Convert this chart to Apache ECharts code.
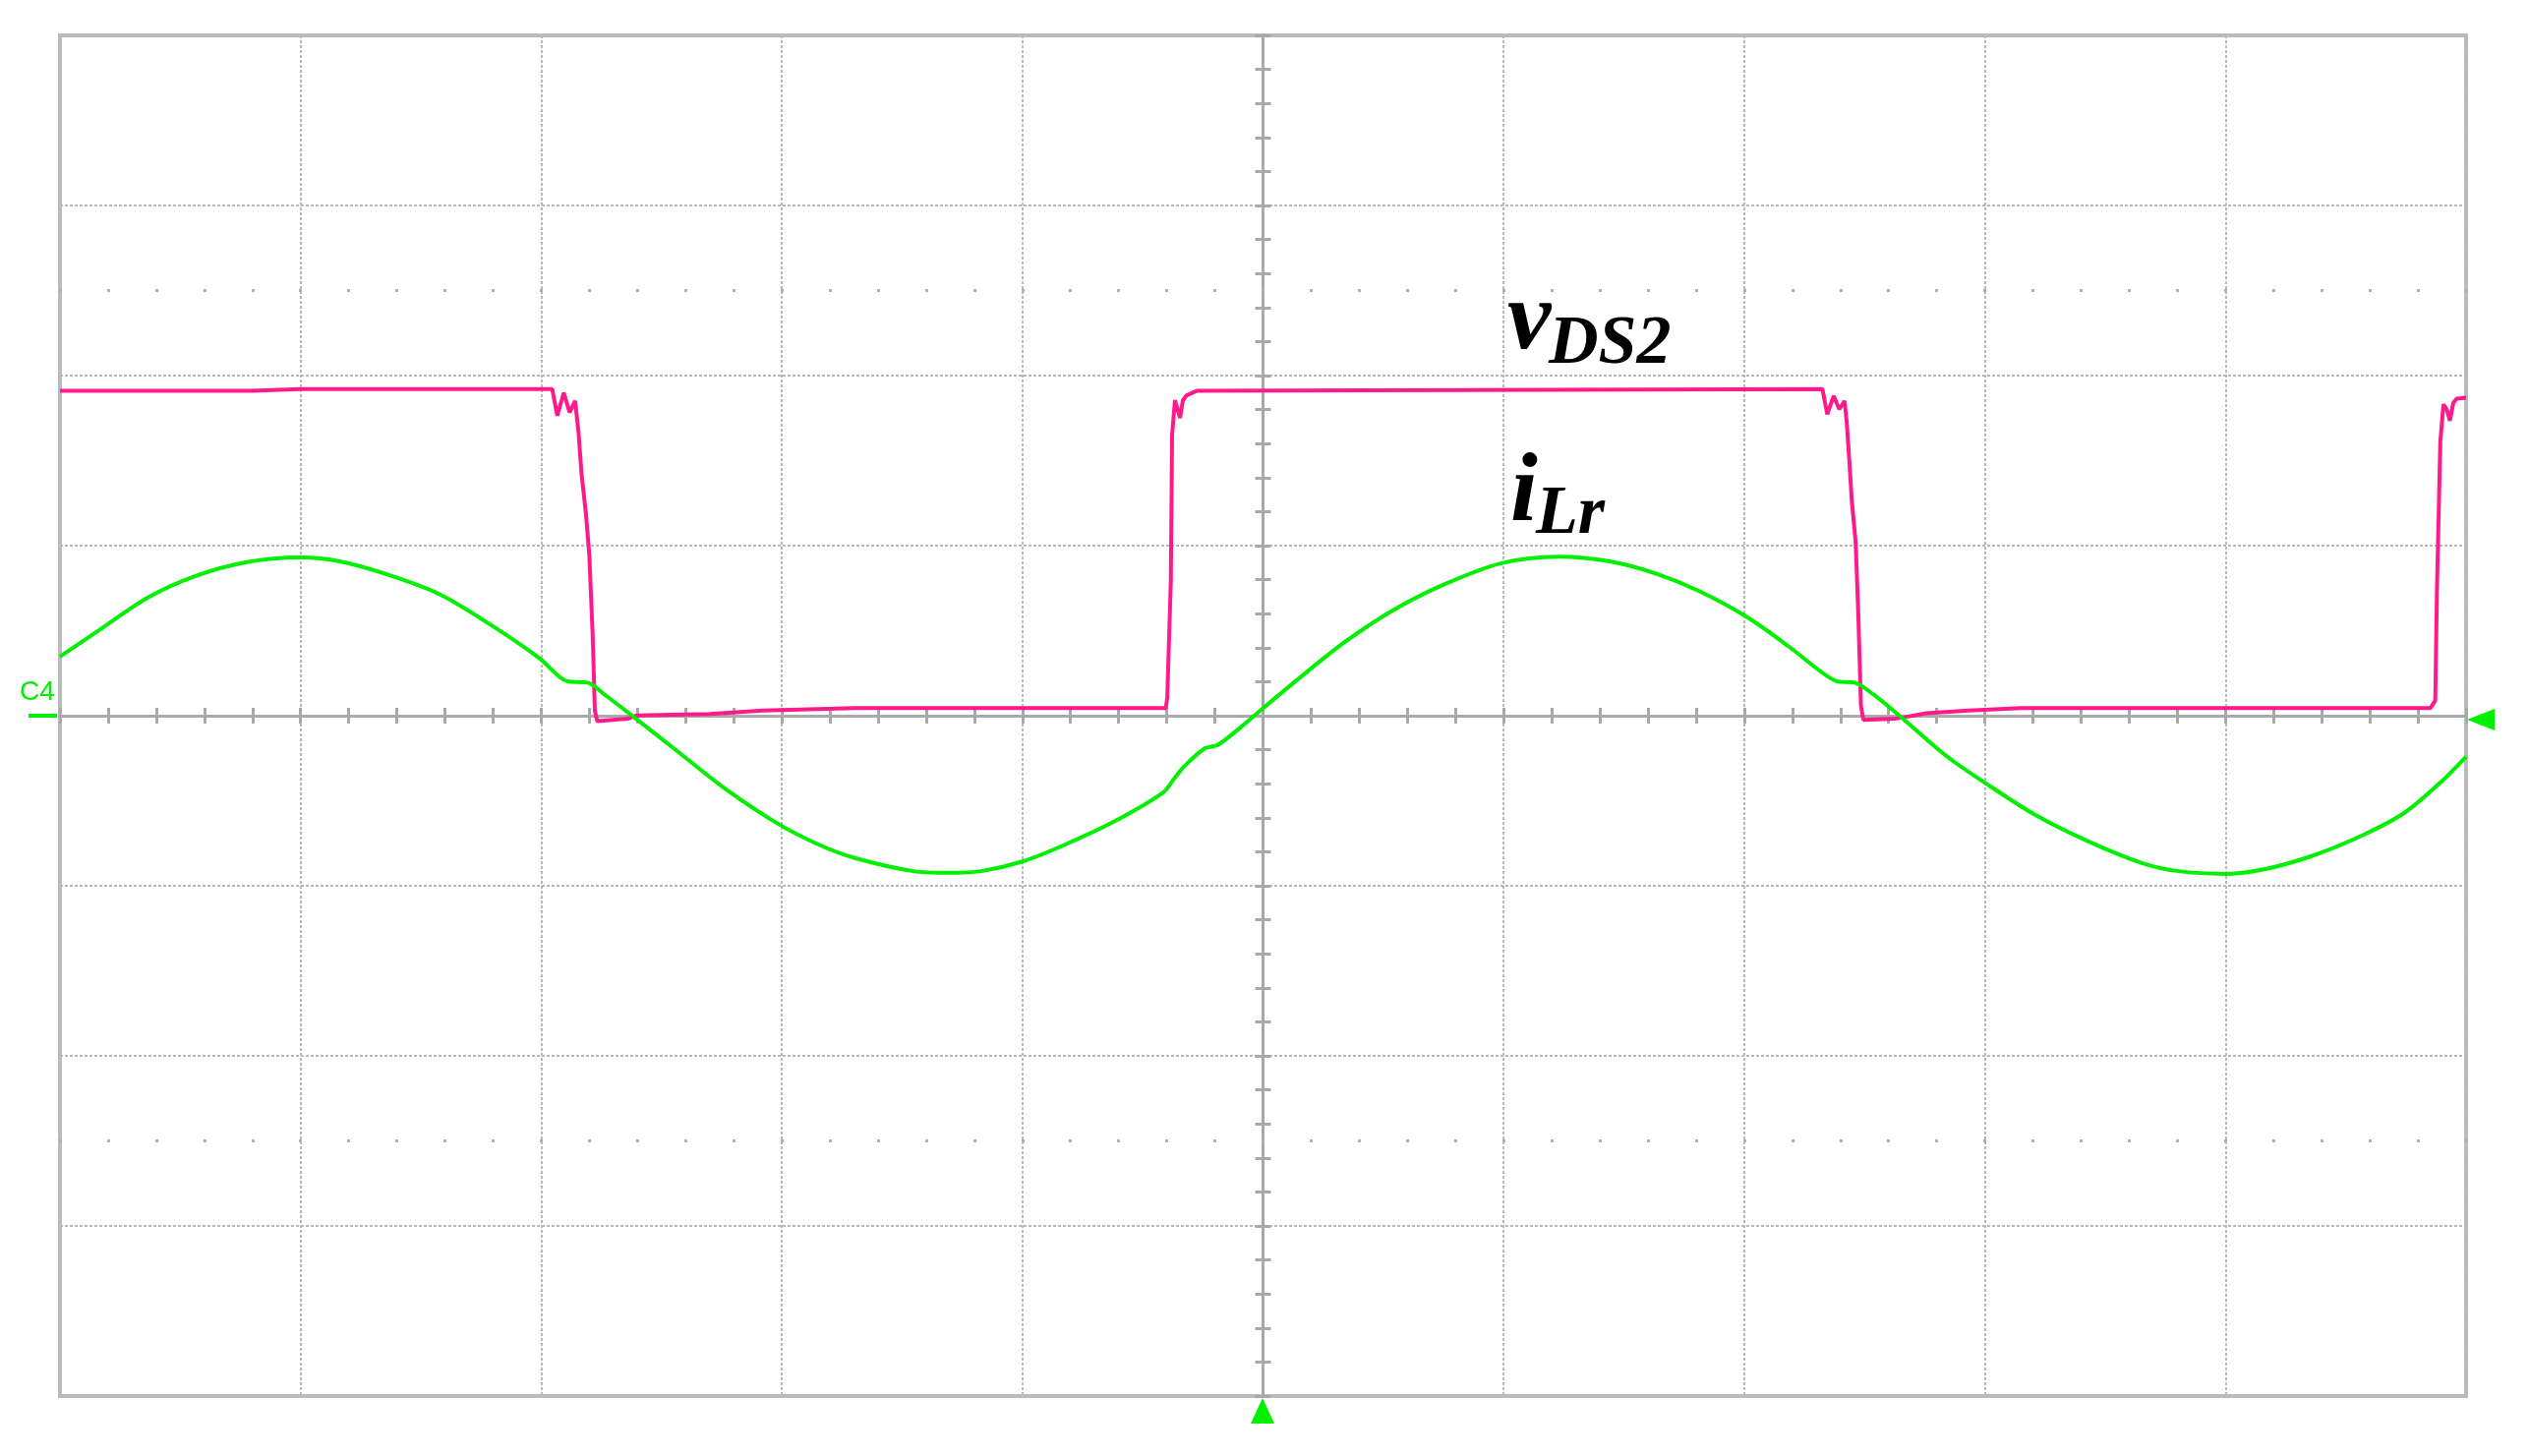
<!DOCTYPE html>
<html>
<head>
<meta charset="utf-8">
<style>
  html, body { margin: 0; padding: 0; background: #ffffff; }
  #chart { width: 2572px; height: 1481px; }
</style>
<script src="https://cdn.jsdelivr.net/npm/echarts@6/dist/echarts.min.js"></script>
</head>
<body>
<div id="chart"></div>
<script>
// time in divisions relative to the screen centre, values in divisions
const timeVds = [-5, -4.2, -4.0, -2.954, -2.933, -2.906, -2.882, -2.859, -2.845, -2.832,
  -2.814, -2.8, -2.786, -2.777, -2.767, -2.64, -2.606, -2.3, -2.08, -1.7,
  -0.404, -0.398, -0.383, -0.378, -0.366, -0.345, -0.333, -0.317, -0.276, 2.325,
  2.345, 2.372, 2.395, 2.417, 2.426, 2.437, 2.447, 2.463, 2.474, 2.485,
  2.495, 2.624, 2.679, 2.755, 2.93, 3.15, 4.852, 4.872, 4.879, 4.893,
  4.906, 4.92, 4.933, 4.947, 4.961, 5.0];
const valVds = [1.91, 1.91, 1.92, 1.92, 1.764, 1.899, 1.783, 1.851, 1.668, 1.417,
  1.186, 0.945, 0.473, 0.03, -0.032, -0.018, 0.001, 0.01, 0.03, 0.045,
  0.045, 0.107, 0.8, 1.65, 1.855, 1.75, 1.855, 1.884, 1.91, 1.92,
  1.773, 1.88, 1.802, 1.851, 1.725, 1.494, 1.263, 1.022, 0.598, 0.059,
  -0.024, -0.018, -0.005, 0.014, 0.03, 0.045, 0.045, 0.088, 0.743, 1.61,
  1.831, 1.8, 1.735, 1.84, 1.864, 1.87];

const timeILr = [-5, -4.829, -4.634, -4.439, -4.223, -4.0, -3.833, -3.639, -3.422, -3.206,
  -3.007, -2.893, -2.806, -2.73, -2.622, -2.449, -2.232, -2.016, -1.843, -1.7,
  -1.453, -1.302, -1.172, -0.999, -0.826, -0.61, -0.415, -0.372, -0.328, -0.242,
  -0.188, -0.091, -0.004, 0.169, 0.342, 0.537, 0.753, 0.991, 1.229, 1.446,
  1.635, 1.813, 2.006, 2.186, 2.317, 2.383, 2.46, 2.536, 2.645, 2.843,
  3.0, 3.214, 3.433, 3.652, 3.805, 4.002, 4.155, 4.352, 4.571, 4.747,
  4.9, 5.0];
const valILr = [0.348, 0.511, 0.695, 0.82, 0.903, 0.93, 0.906, 0.83, 0.714, 0.531,
  0.338, 0.203, 0.194, 0.117, 0.0, -0.192, -0.433, -0.635, -0.76, -0.835,
  -0.914, -0.924, -0.914, -0.857, -0.76, -0.616, -0.452, -0.375, -0.298, -0.192,
  -0.172, -0.066, 0.039, 0.242, 0.435, 0.617, 0.772, 0.897, 0.935, 0.906,
  0.835, 0.733, 0.585, 0.406, 0.261, 0.203, 0.194, 0.126, 0.0, -0.24,
  -0.394, -0.587, -0.741, -0.866, -0.914, -0.93, -0.905, -0.828, -0.702, -0.568,
  -0.384, -0.24];

const xRange = [-5, 5];
const yRange = [-4, 4];
const dotRows = [2.5, -2.5];

const W = 2572, H = 1481;
const G = { left: 61, right: 64, top: 36, bottom: 61 };
const divY = (H - G.top - G.bottom) / (yRange[1] - yRange[0]);

const gridColor = '#b9b9b9';
const axisColor = '#a9a9a9';
const pink = '#ff1a8c';
const green = '#00f000';

function centerAxis(base, inside) {
  return Object.assign({
    type: 'value',
    axisLabel: { show: false },
    axisLine: { show: true, onZero: true, onZeroAxisIndex: 0, lineStyle: { color: axisColor, width: 3 } },
    axisTick: { show: true, inside: inside, length: 8, lineStyle: { color: axisColor, width: 3 } },
    minorTick: { show: true, splitNumber: 5, length: 8, lineStyle: { color: axisColor, width: 3 } },
    minorSplitLine: { show: false }
  }, base);
}

const xAxes = [
  centerAxis({ min: xRange[0], max: xRange[1], interval: 1, position: 'bottom',
    splitLine: { show: true, lineStyle: { color: gridColor, width: 2, type: [3, 2] } } }, false),
  centerAxis({ min: xRange[0], max: xRange[1], interval: 1, position: 'bottom', splitLine: { show: false } }, true)
];
dotRows.forEach(function (r) {
  const fromTop = r > 0;
  const off = fromTop ? -(yRange[1] - r) * divY - 1.5 : -(r - yRange[0]) * divY - 1.5;
  xAxes.push({
    type: 'value', min: xRange[0], max: xRange[1], interval: 1,
    position: fromTop ? 'top' : 'bottom', offset: off,
    axisLabel: { show: false }, splitLine: { show: false },
    axisLine: { show: false, onZero: false },
    axisTick: { show: true, length: 3, lineStyle: { color: '#b0b0b0', width: 3 } },
    minorTick: { show: true, splitNumber: 5, length: 3, lineStyle: { color: '#b0b0b0', width: 3 } }
  });
});

const yAxes = [
  centerAxis({ min: yRange[0], max: yRange[1], interval: 1, position: 'left',
    splitLine: { show: true, lineStyle: { color: gridColor, width: 2, type: [3, 2] } } }, false),
  centerAxis({ min: yRange[0], max: yRange[1], interval: 1, position: 'left', splitLine: { show: false } }, true)
];

const chart = echarts.init(document.getElementById('chart'), null, { renderer: 'canvas' });
const serif = 'Liberation Serif';

function label(x, y, txt, size) {
  return { type: 'text', x: x, y: y, z: 10,
    style: { text: txt, fontFamily: serif, fontStyle: 'italic', fontWeight: 'bold', fontSize: size,
      fill: '#000', align: 'left', verticalAlign: 'middle' } };
}

chart.setOption({
  animation: false,
  backgroundColor: '#ffffff',
  grid: { left: G.left, right: G.right, top: G.top, bottom: G.bottom, show: true,
    borderColor: '#bcbcbc', borderWidth: 4, backgroundColor: '#ffffff' },
  xAxis: xAxes,
  yAxis: yAxes,
  series: [
    { name: 'vDS2', type: 'line', xAxisIndex: 0, yAxisIndex: 0, symbol: 'none', smooth: false,
      lineStyle: { color: pink, width: 4 }, z: 3,
      data: timeVds.map(function (t, i) { return [t, valVds[i]]; }) },
    { name: 'iLr', type: 'line', xAxisIndex: 0, yAxisIndex: 0, symbol: 'none', smooth: 0.3,
      lineStyle: { color: green, width: 4 }, z: 4,
      data: timeILr.map(function (t, i) { return [t, valILr[i]]; }) }
  ],
  graphic: [
    label(1533, 328, 'v', 100),
    label(1575, 351, 'DS2', 70),
    label(1536, 503, 'i', 100),
    label(1562, 524, 'Lr', 70),
    { type: 'text', x: 20, y: 704, z: 10, style: { text: 'C4', fontFamily: 'Liberation Sans', fontSize: 28, fill: green, align: 'left', verticalAlign: 'middle' } },
    { type: 'line', z: 10, shape: { x1: 29, y1: 728, x2: 58, y2: 728 }, style: { stroke: green, lineWidth: 4 } },
    { type: 'polygon', z: 10, shape: { points: [[2509, 732], [2537, 721], [2537, 743]] }, style: { fill: green } },
    { type: 'polygon', z: 10, shape: { points: [[1284, 1422], [1272, 1448], [1296, 1448]] }, style: { fill: green } }
  ]
});
</script>
</body>
</html>
